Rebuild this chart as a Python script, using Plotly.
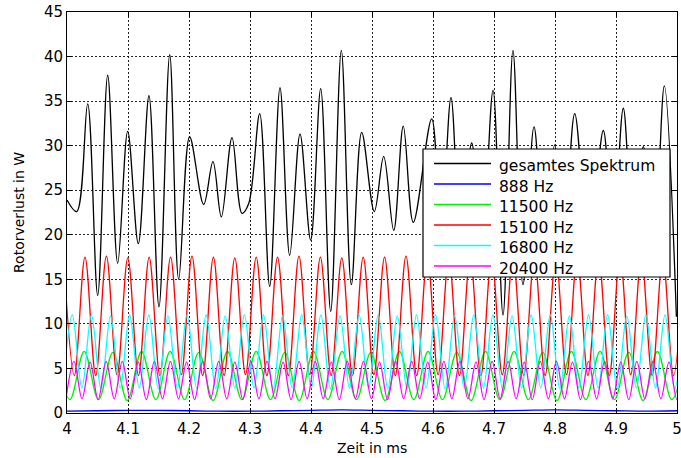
import plotly.graph_objects as go

# ---------------- data ----------------
x_tickvals = [4.0, 4.1, 4.2, 4.3, 4.4, 4.5, 4.6, 4.7, 4.8, 4.9, 5.0]
x_ticktext = ["4", "4.1", "4.2", "4.3", "4.4", "4.5", "4.6", "4.7", "4.8", "4.9", "5"]
y_tickvals = [0, 5, 10, 15, 20, 25, 30, 35, 40, 45]
y_ticktext = ["0", "5", "10", "15", "20", "25", "30", "35", "40", "45"]

x_title = "Zeit in ms"
y_title = "Rotorverlust in W"
series_names = ["gesamtes Spektrum", "888 Hz", "11500 Hz", "15100 Hz", "16800 Hz", "20400 Hz"]
series_colors = ["#000000", "#0000ff", "#00f000", "#ff0000", "#00ffff", "#ff00ff"]

# gesamtes Spektrum: turning points (time in ms, loss in W)
total_t = [4.0000, 4.0159, 4.0339, 4.0503, 4.0667, 4.0831, 4.0995, 4.1169, 4.1344, 4.1508,
           4.1684, 4.1831, 4.2011, 4.2241, 4.2393, 4.2530, 4.2705, 4.2869, 4.2979, 4.3159,
           4.3323, 4.3492, 4.3651, 4.3820, 4.3995, 4.4159, 4.4323, 4.4497, 4.4661, 4.4831,
           4.5038, 4.5192, 4.5356, 4.5513, 4.5677, 4.5979, 4.6131, 4.6295, 4.6459, 4.6634,
           4.6803, 4.6984, 4.7148, 4.7311, 4.7475, 4.7656, 4.7820, 4.7995, 4.8148, 4.8323,
           4.8557, 4.8792, 4.8951, 4.9120, 4.9279, 4.9448, 4.9623, 4.9792, 4.9990]
total_v = [23.9, 22.6, 34.7, 13.2, 37.9, 16.8, 31.6, 19.0, 35.6, 11.9,
           40.2, 15.0, 31.0, 23.4, 28.2, 22.0, 30.9, 22.4, 23.5, 33.6,
           14.2, 36.5, 17.7, 31.3, 19.4, 36.4, 11.4, 40.7, 14.4, 31.5,
           22.6, 28.8, 20.5, 32.2, 21.4, 33.0, 20.0, 35.4, 18.0, 30.3,
           19.0, 36.2, 11.0, 40.7, 14.4, 32.1, 20.0, 30.1, 20.0, 33.6,
           18.0, 31.7, 20.0, 34.2, 20.0, 29.9, 18.0, 36.7, 10.8]

# 888 Hz
f888_t = [4.00, 4.05, 4.10, 4.15, 4.20, 4.25, 4.30, 4.35, 4.40, 4.45, 4.50,
          4.55, 4.60, 4.65, 4.70, 4.75, 4.80, 4.85, 4.90, 4.95, 5.00]
f888_v = [0.20, 0.25, 0.30, 0.30, 0.25, 0.20, 0.20, 0.25, 0.30, 0.35, 0.30,
          0.25, 0.20, 0.20, 0.25, 0.30, 0.35, 0.30, 0.25, 0.20, 0.25]

# 11500 Hz: peaks and troughs
f11500_peak_t = [3.9812, 4.0282, 4.0752, 4.1222, 4.1692, 4.2161, 4.2631, 4.3101, 4.3571, 4.4041,
                 4.4511, 4.4980, 4.5450, 4.5920, 4.6390, 4.6860, 4.7330, 4.7799, 4.8269, 4.8739,
                 4.9209, 4.9679, 5.0149]
f11500_peak_v = [6.9, 6.9, 6.8, 6.9, 6.9, 6.8, 6.9, 6.9, 6.8, 6.9,
                 6.9, 6.8, 6.9, 6.9, 6.8, 6.9, 6.9, 6.8, 6.9, 6.9,
                 6.8, 6.9, 6.9]
f11500_trough_t = [4.0047, 4.0517, 4.0987, 4.1457, 4.1927, 4.2396, 4.2866, 4.3336, 4.3806, 4.4276,
                   4.4746, 4.5215, 4.5685, 4.6155, 4.6625, 4.7095, 4.7564, 4.8034, 4.8504, 4.8974,
                   4.9444, 4.9914]
f11500_trough_v = [1.5, 1.5, 1.4, 1.5, 1.5, 1.4, 1.5, 1.5, 1.4, 1.5,
                   1.5, 1.4, 1.5, 1.5, 1.4, 1.5, 1.5, 1.4, 1.5, 1.5,
                   1.4, 1.5]

# 15100 Hz
f15100_peak_t = [3.9944, 4.0295, 4.0646, 4.0997, 4.1347, 4.1698, 4.2049, 4.2400, 4.2751, 4.3102,
                 4.3452, 4.3803, 4.4154, 4.4505, 4.4856, 4.5206, 4.5557, 4.5908, 4.6259, 4.6610,
                 4.6961, 4.7311, 4.7662, 4.8013, 4.8364, 4.8715, 4.9066, 4.9416, 4.9767, 5.0118]
f15100_peak_v = [17.5, 17.5, 17.6, 17.4, 17.5, 17.5, 17.6, 17.5, 17.4, 17.5,
                 17.5, 17.6, 17.5, 17.4, 17.5, 17.5, 17.6, 17.5, 17.4, 17.5,
                 17.5, 17.6, 17.5, 17.4, 17.5, 17.5, 17.6, 17.5, 17.4, 17.5]
f15100_trough_t = [4.0120, 4.0471, 4.0821, 4.1172, 4.1523, 4.1874, 4.2225, 4.2575, 4.2926, 4.3277,
                   4.3628, 4.3979, 4.4330, 4.4680, 4.5031, 4.5382, 4.5733, 4.6084, 4.6434, 4.6785,
                   4.7136, 4.7487, 4.7838, 4.8189, 4.8539, 4.8890, 4.9241, 4.9592, 4.9943]
f15100_trough_v = [4.2, 4.2, 4.3, 4.2, 4.2, 4.3, 4.2, 4.2, 4.3, 4.2,
                   4.2, 4.3, 4.2, 4.2, 4.3, 4.2, 4.2, 4.3, 4.2, 4.2,
                   4.3, 4.2, 4.2, 4.3, 4.2, 4.2, 4.3, 4.2, 4.2]

# 16800 Hz
f16800_peak_t = [4.0087, 4.0400, 4.0714, 4.1027, 4.1341, 4.1654, 4.1968, 4.2281, 4.2594, 4.2908,
                 4.3221, 4.3535, 4.3848, 4.4162, 4.4475, 4.4789, 4.5102, 4.5415, 4.5729, 4.6042,
                 4.6356, 4.6669, 4.6983, 4.7296, 4.7609, 4.7923, 4.8236, 4.8550, 4.8863, 4.9177,
                 4.9490, 4.9804, 5.0117]
f16800_peak_v = [11.0, 11.0, 10.9, 11.0, 11.0, 10.9, 11.0, 11.0, 10.9, 11.0,
                 11.0, 10.9, 11.0, 11.0, 10.9, 11.0, 11.0, 10.9, 11.0, 11.0,
                 10.9, 11.0, 11.0, 10.9, 11.0, 11.0, 10.9, 11.0, 11.0, 10.9,
                 11.0, 11.0, 10.9]
f16800_trough_t = [3.9930, 4.0244, 4.0557, 4.0871, 4.1184, 4.1497, 4.1811, 4.2124, 4.2438, 4.2751,
                   4.3065, 4.3378, 4.3691, 4.4005, 4.4318, 4.4632, 4.4945, 4.5259, 4.5572, 4.5886,
                   4.6199, 4.6512, 4.6826, 4.7139, 4.7453, 4.7766, 4.8080, 4.8393, 4.8707, 4.9020,
                   4.9333, 4.9647, 4.9960]
f16800_trough_v = [2.8, 2.8, 2.7, 2.8, 2.8, 2.7, 2.8, 2.8, 2.7, 2.8,
                   2.8, 2.7, 2.8, 2.8, 2.7, 2.8, 2.8, 2.7, 2.8, 2.8,
                   2.7, 2.8, 2.8, 2.7, 2.8, 2.8, 2.7, 2.8, 2.8, 2.7,
                   2.8, 2.8, 2.7]

# 20400 Hz
f20400_peak_t = [4.0115, 4.0378, 4.0642, 4.0906, 4.1169, 4.1433, 4.1696, 4.1960, 4.2224, 4.2487,
                 4.2751, 4.3015, 4.3278, 4.3542, 4.3805, 4.4069, 4.4333, 4.4596, 4.4860, 4.5123,
                 4.5387, 4.5651, 4.5914, 4.6178, 4.6441, 4.6705, 4.6969, 4.7232, 4.7496, 4.7759,
                 4.8023, 4.8287, 4.8550, 4.8814, 4.9078, 4.9341, 4.9605, 4.9868, 5.0132]
f20400_peak_v = [5.8, 5.7, 5.8, 5.8, 5.7, 5.8, 5.8, 5.7, 5.8, 5.8,
                 5.7, 5.8, 5.8, 5.7, 5.8, 5.8, 5.7, 5.8, 5.8, 5.7,
                 5.8, 5.8, 5.7, 5.8, 5.8, 5.7, 5.8, 5.8, 5.7, 5.8,
                 5.8, 5.7, 5.8, 5.8, 5.7, 5.8, 5.8, 5.7, 5.8]
f20400_trough_t = [3.9983, 4.0246, 4.0510, 4.0774, 4.1037, 4.1301, 4.1564, 4.1828, 4.2092, 4.2355,
                   4.2619, 4.2883, 4.3146, 4.3410, 4.3673, 4.3937, 4.4201, 4.4464, 4.4728, 4.4991,
                   4.5255, 4.5519, 4.5782, 4.6046, 4.6309, 4.6573, 4.6837, 4.7100, 4.7364, 4.7627,
                   4.7891, 4.8155, 4.8418, 4.8682, 4.8946, 4.9209, 4.9473, 4.9736, 5.0000]
f20400_trough_v = [1.6, 1.6, 1.5, 1.6, 1.6, 1.5, 1.6, 1.6, 1.5, 1.6,
                   1.6, 1.5, 1.6, 1.6, 1.5, 1.6, 1.6, 1.5, 1.6, 1.6,
                   1.5, 1.6, 1.6, 1.5, 1.6, 1.6, 1.5, 1.6, 1.6, 1.5,
                   1.6, 1.6, 1.5, 1.6, 1.6, 1.5, 1.6, 1.6, 1.5]


def merge(pt, pv, tt, tv):
    pts = sorted(list(zip(pt, pv)) + list(zip(tt, tv)))
    return [p[0] for p in pts], [p[1] for p in pts]


series = [
    (total_t, total_v),
    (f888_t, f888_v),
    merge(f11500_peak_t, f11500_peak_v, f11500_trough_t, f11500_trough_v),
    merge(f15100_peak_t, f15100_peak_v, f15100_trough_t, f15100_trough_v),
    merge(f16800_peak_t, f16800_peak_v, f16800_trough_t, f16800_trough_v),
    merge(f20400_peak_t, f20400_peak_v, f20400_trough_t, f20400_trough_v),
]

# ---------------- figure ----------------
W, H = 681, 458
L, R, T, B = 67, 4, 12, 45
PW, PH = W - L - R, H - T - B
FONT = "DejaVu Sans, Liberation Sans, Arial, sans-serif"

fig = go.Figure()
for (xs, ys), name, col in zip(series, series_names, series_colors):
    fig.add_trace(go.Scatter(
        x=xs, y=ys, mode="lines", name=name, showlegend=False,
        line=dict(color=col, width=1.3, shape="spline", smoothing=1.0),
        hoverinfo="x+y+name",
    ))


def px_x(px):
    return (px - L) / PW


def px_y(py):
    return (H - B - py) / PH


shapes = []
annotations = []
# legend box
shapes.append(dict(type="rect", xref="paper", yref="paper",
                   x0=px_x(423), x1=px_x(670), y0=px_y(277), y1=px_y(149),
                   fillcolor="white", line=dict(color="black", width=1.2), layer="above"))
for i, (name, col) in enumerate(zip(series_names, series_colors)):
    ly = 163.5 + 20.5 * i
    ty = 166.0 + 20.5 * i
    shapes.append(dict(type="line", xref="paper", yref="paper",
                       x0=px_x(434), x1=px_x(491), y0=px_y(ly), y1=px_y(ly),
                       line=dict(color=col, width=1.3), layer="above"))
    annotations.append(dict(xref="paper", yref="paper", x=px_x(497), y=px_y(ty),
                            xanchor="left", yanchor="middle", showarrow=False,
                            text=name, font=dict(family=FONT, size=15.5, color="black")))

# axis titles
annotations.append(dict(xref="paper", yref="paper", x=px_x(372), y=px_y(448),
                        xanchor="center", yanchor="middle", showarrow=False,
                        text=x_title, font=dict(family=FONT, size=14, color="black")))
annotations.append(dict(xref="paper", yref="paper", x=px_x(19), y=px_y(212),
                        xanchor="center", yanchor="middle", showarrow=False, textangle=-90,
                        text=y_title, font=dict(family=FONT, size=14, color="black")))

axis_common = dict(
    showline=True, linecolor="black", linewidth=1, mirror="allticks",
    ticks="inside", ticklen=5, tickcolor="black", tickwidth=1,
    showgrid=True, gridcolor="rgba(0,0,0,0.85)", gridwidth=1, griddash="2px,2px",
    zeroline=False, tickfont=dict(family=FONT, size=15, color="black"),
    ticklabeloverflow="allow",
)

fig.update_layout(
    width=W, height=H,
    margin=dict(l=L, r=R, t=T, b=B, autoexpand=False),
    paper_bgcolor="white", plot_bgcolor="white",
    showlegend=False,
    shapes=shapes, annotations=annotations,
    xaxis=dict(range=[4, 5], tickvals=x_tickvals, ticktext=x_ticktext,
               ticklabelstandoff=2, **axis_common),
    yaxis=dict(range=[0, 45], tickvals=y_tickvals, ticktext=y_ticktext,
               **axis_common),
)

fig.write_html(
    "out.html",
    config={"displayModeBar": False},
    post_script="document.body.style.margin='0';document.body.style.overflow='hidden';",
)
